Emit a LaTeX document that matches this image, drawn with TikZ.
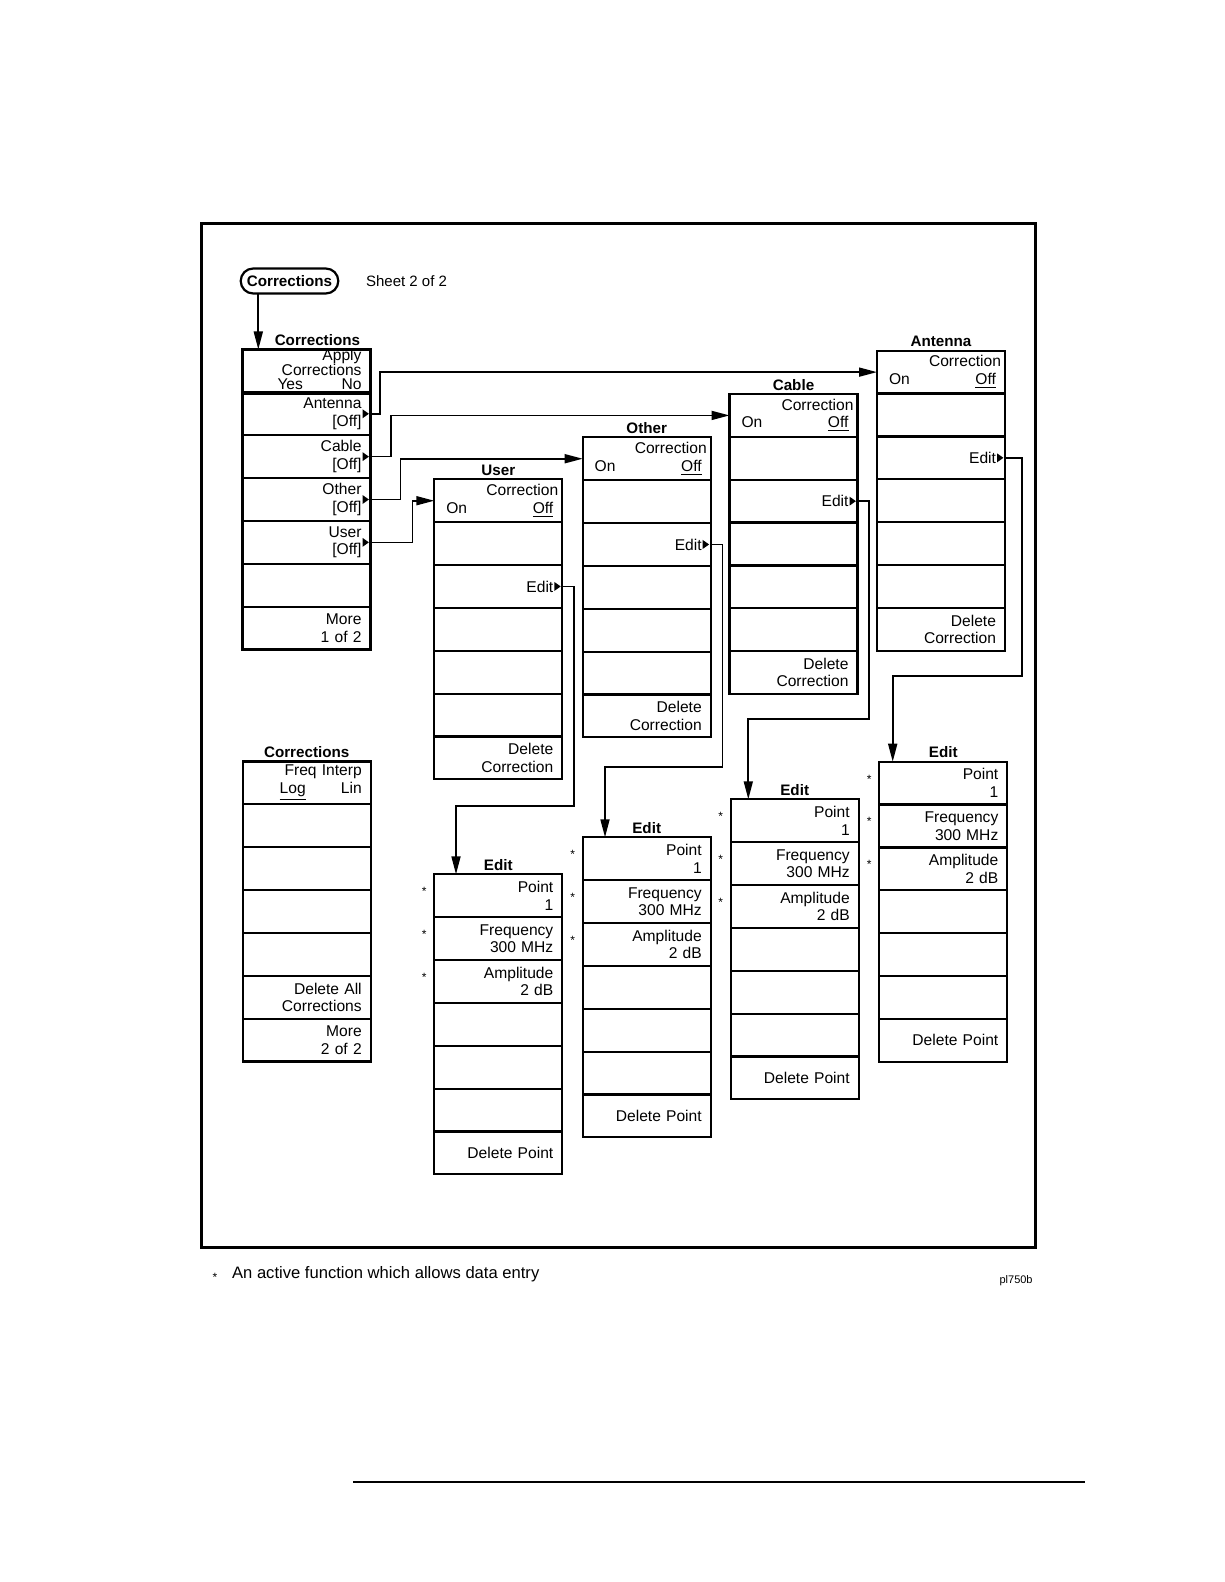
\documentclass[tikz,border=0pt]{standalone}
\usepackage{fontspec}
\setmainfont{Liberation Sans}
\usetikzlibrary{
    arrows.meta,
    positioning,
    calc
}

\newcommand{\separa}{\hspace{0pt plus 1filll}}
\newcommand{\marca}[1]{%
    \fill ([xshift=-4pt,yshift=2.25pt]#1.east) -- ([xshift=-0.8pt]#1.east)
        -- ([xshift=-4pt,yshift=-2.25pt]#1.east) -- cycle;}
\newcommand{\menu}[3]{%
    \coordinate (#1-o) at #2;
    \foreach \txt [count=\i from 0] in {#3}
        \node[tecla, anchor=north west] (#1-\i) at ([yshift={-21.43pt*\i}]#1-o) {\txt};}

\begin{document}
\begin{tikzpicture}[
    x=0.5pt, y=-0.5pt,
    every node/.style={font=\fontsize{7.8}{8.8}\selectfont},
    tecla/.style={
        draw,
        line width=1.1pt,
        minimum width=64pt,
        minimum height=21.43pt,
        text width=55pt,
        inner xsep=4.5pt,
        inner ysep=0pt,
        outer sep=0pt,
        align=right
    },
    titulo/.style={
        font=\fontsize{7.6}{9}\selectfont\bfseries,
        inner sep=0pt
    },
    botao/.style={
        draw,
        rounded corners=6.25pt,
        line width=1.1pt,
        minimum width=48.8pt,
        minimum height=12.5pt,
        inner sep=0pt,
        outer sep=0pt,
        font=\fontsize{7.6}{9}\selectfont\bfseries
    },
    estrela/.style={
        font=\fontsize{6}{7}\selectfont,
        inner sep=0pt,
        anchor=base
    },
    seta/.style={
        -{Triangle[length=9pt,width=4.5pt]},
        line width=0.85pt
    },
    quadro/.style={
        line width=1.5pt
    }
]

\useasboundingbox (0,0) rectangle (1224,1582);

\draw[quadro] (201.7,224) rectangle (1035.3,1247.3);

\node[botao] (inicio) at (289.5,281) {Corrections};
\node[right=13.7pt of inicio, inner sep=0pt, font=\fontsize{7.5}{9}\selectfont] (folha) {Sheet 2 of 2};

\menu{corr1}{(242.5,349.5)}{
    {Apply\\[-1.6pt]Corrections\\[-1.6pt]\hspace*{13pt}Yes\separa\underline{No}},
    {Antenna\\{}[Off]},
    {Cable\\{}[Off]},
    {Other\\{}[Off]},
    {User\\{}[Off]},
    {},
    {More\\1 of 2}}
\menu{user}{(434.3,479.3)}{
    {Correction\kern-2.5pt\\\hspace*{1.5pt}On\separa\underline{Off}},
    {}, {Edit}, {}, {}, {},
    {Delete\hspace*{2pt}\\Correction\hspace*{2pt}}}
\menu{other}{(582.7,437.3)}{
    {Correction\kern-2.5pt\\\hspace*{1.5pt}On\separa\underline{Off}},
    {}, {Edit}, {}, {}, {},
    {Delete\hspace*{2pt}\\Correction\hspace*{2pt}}}
\menu{cable}{(729.5,394)}{
    {Correction\kern-2.5pt\\\hspace*{1.5pt}On\separa\underline{Off}},
    {}, {Edit}, {}, {}, {},
    {Delete\hspace*{2pt}\\Correction\hspace*{2pt}}}
\menu{ant}{(877,350.7)}{
    {Correction\kern-2.5pt\\\hspace*{1.5pt}On\separa\underline{Off}},
    {}, {Edit}, {}, {}, {},
    {Delete\hspace*{2pt}\\Correction\hspace*{2pt}}}
\menu{corr2}{(242.7,761.5)}{
    {Freq Interp\\\hspace*{14pt}\underline{Log}\separa Lin},
    {}, {}, {}, {},
    {Delete All\\Corrections},
    {More\\2 of 2}}
\menu{eu}{(434.3,874.3)}{
    {Point\\1}, {Frequency\\300 MHz}, {Amplitude\\2 dB}, {}, {}, {}, {Delete Point}}
\menu{eo}{(582.7,837.3)}{
    {Point\\1}, {Frequency\\300 MHz}, {Amplitude\\2 dB}, {}, {}, {}, {Delete Point}}
\menu{ec}{(730.7,799.3)}{
    {Point\\1}, {Frequency\\300 MHz}, {Amplitude\\2 dB}, {}, {}, {}, {Delete Point}}
\menu{ea}{(879.3,761.7)}{
    {Point\\1}, {Frequency\\300 MHz}, {Amplitude\\2 dB}, {}, {}, {}, {Delete Point}}

\node[titulo, above=1.6pt of corr1-0.north, xshift=5.45pt] (corr1-t) {Corrections};
\node[titulo, above=1.6pt of user-0.north] (user-t) {User};
\node[titulo, above=1.6pt of other-0.north] (other-t) {Other};
\node[titulo, above=1.6pt of cable-0.north] (cable-t) {Cable};
\node[titulo, above=1.6pt of ant-0.north] (ant-t) {Antenna};
\node[titulo, above=1.6pt of corr2-0.north] (corr2-t) {Corrections};
\foreach \m in {eu,eo,ec,ea}
    \node[titulo, above=1.6pt of \m-0.north] (\m-t) {Edit};

\foreach \m in {eu,eo,ec,ea}
    \foreach \i in {0,1,2}
        \node[estrela] (\m-s\i) at ([xshift=-5pt]\m-\i.west) {*};

\foreach \r in {corr1-1,corr1-2,corr1-3,corr1-4,user-2,other-2,cable-2,ant-2}
    {\marca{\r}}

\coordinate (ini-b) at ([xshift=-15.6pt]inicio.south);
\draw[seta] (ini-b) -- (ini-b |- corr1-0.north);

\draw[seta] (corr1-1.east) -- ++(9.5,0) |- (ant-0.west);
\draw[seta] (corr1-2.east) -- ++(20.5,0) |- (cable-0.west);
\draw[seta] (corr1-3.east) -- ++(30,0) |- (other-0.west);
\draw[seta] (corr1-4.east) -- ++(42,0) |- (user-0.west);

\coordinate (du) at (574,806);
\coordinate (do) at (722.5,766.7);
\coordinate (dc) at (869,719);
\coordinate (da) at (1021.7,676);
\draw[seta] (user-2.east) -| (du) -| ([xshift=10.85pt]eu-0.north west);
\draw[seta] (other-2.east) -| (do) -| ([xshift=11.15pt]eo-0.north west);
\draw[seta] (cable-2.east) -| (dc) -| ([xshift=8.8pt]ec-0.north west);
\draw[seta] (ant-2.east) -| (da) -| ([xshift=6.7pt]ea-0.north west);

\node[estrela] (nota-s) at (215,1281) {*};
\node[anchor=base west, inner sep=0pt, font=\fontsize{8.3}{10}\selectfont] (nota) at (231.7,1278.6) {An active function which allows data entry};
\node[anchor=base east, inner sep=0pt, font=\fontsize{5.5}{7}\selectfont] (codigo) at (1033,1283) {pl750b};

\draw[line width=1pt] (353,1482) -- (1085,1482);

\end{tikzpicture}
\end{document}
